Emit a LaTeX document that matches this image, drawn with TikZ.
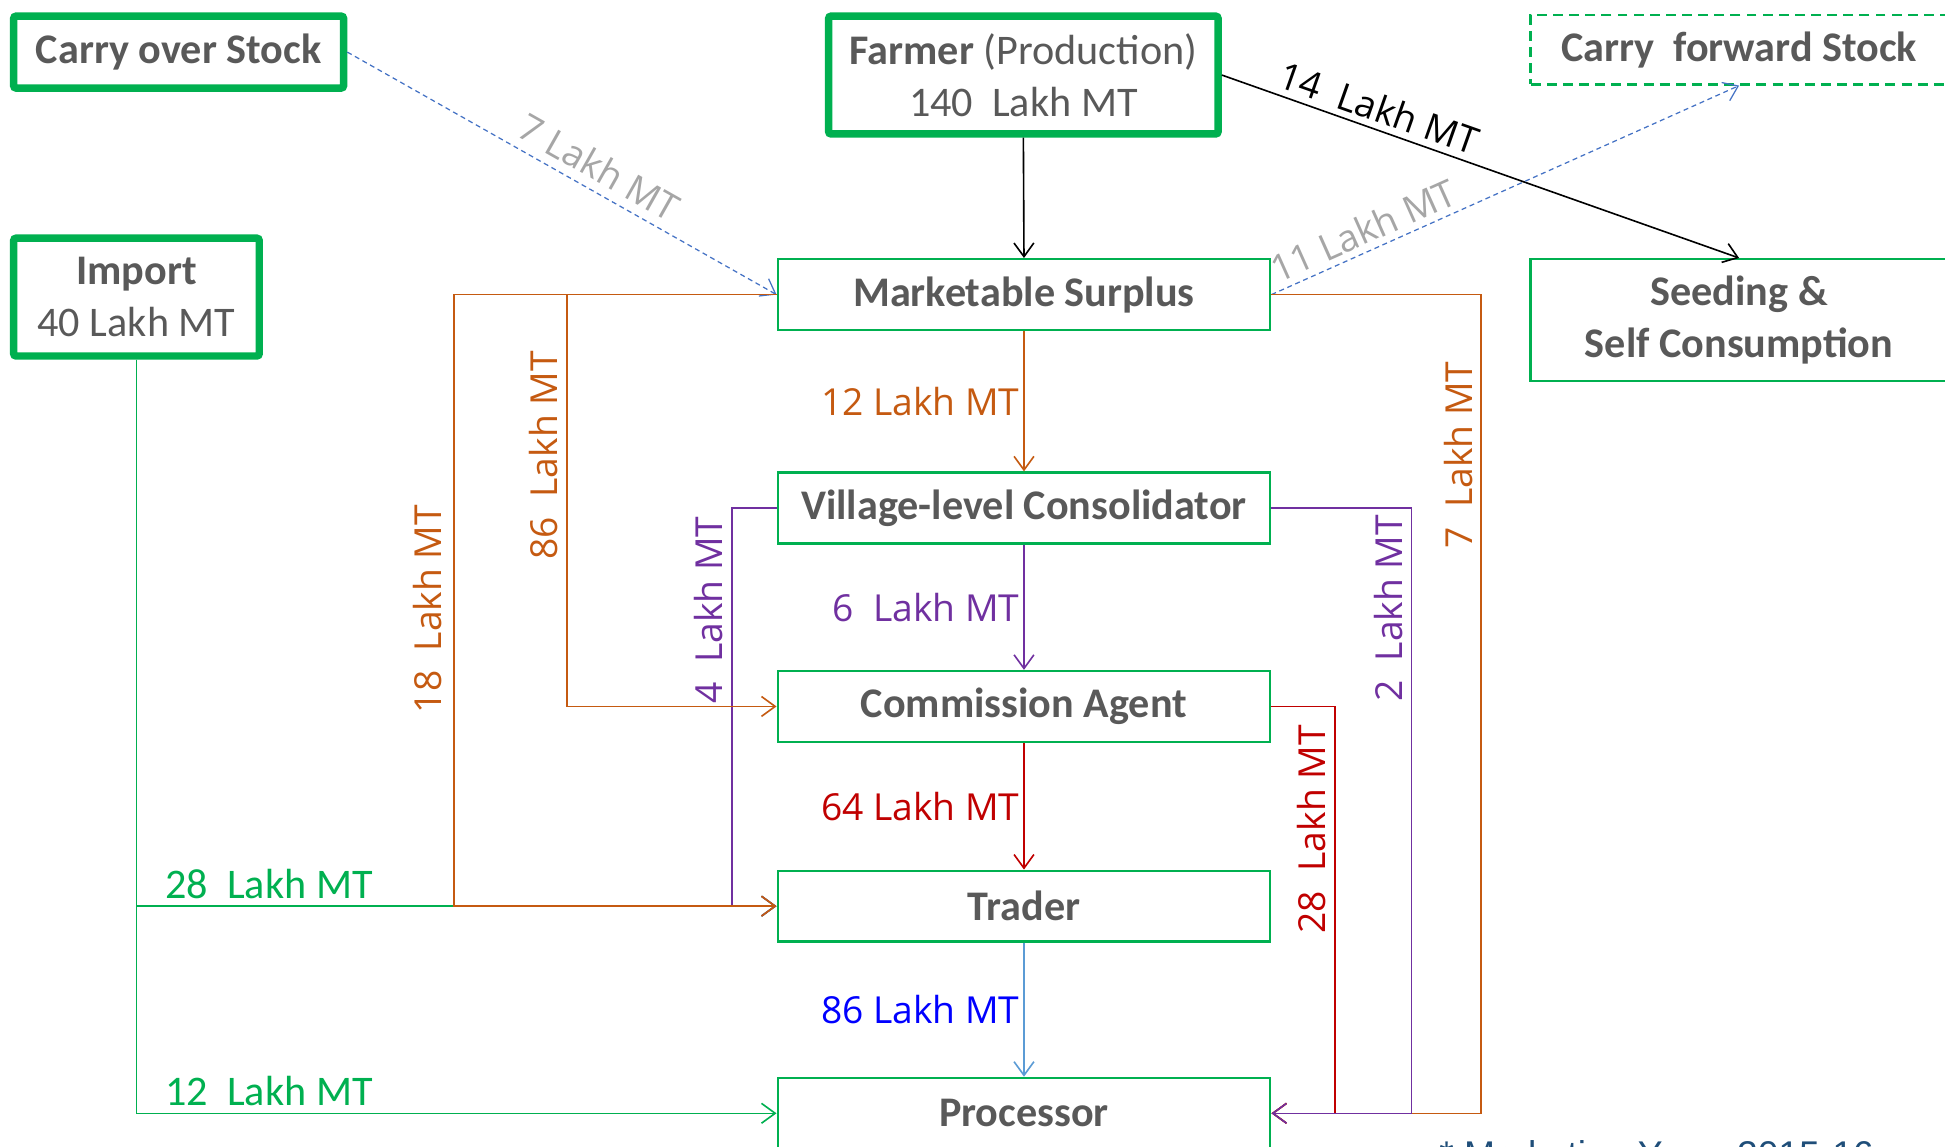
\documentclass[tikz,border=0pt]{standalone}
\usepackage{fontspec}
\setmainfont{Carlito}
\newfontfamily\lblfont{Open Sans}
\newfontfamily\notefont{Liberation Sans}
\usepackage{xcolor}
\usetikzlibrary{arrows.meta}
\usetikzlibrary{positioning}
\definecolor{boxgreen}{HTML}{00B050}
\definecolor{boxgray}{HTML}{595959}
\definecolor{orng}{HTML}{C55A11}
\definecolor{purp}{HTML}{7030A0}
\definecolor{redc}{HTML}{C00000}
\definecolor{blueline}{HTML}{5B9BD5}
\definecolor{bluetext}{HTML}{0000FF}
\definecolor{dashblue}{HTML}{4472C4}
\definecolor{lightgray}{HTML}{A6A6A6}
\definecolor{notecol}{HTML}{1F4E79}

\begin{document}
\begin{tikzpicture}[x=1pt, y=-1pt, semithick]
  \tikzstyle{bigbox}=[draw=boxgreen, line width=6pt, rounded corners=2pt, inner sep=0pt, align=center, text=boxgray, font=\fontsize{34}{42}\selectfont]
  \tikzstyle{flowbox}=[draw=boxgreen, line width=2pt, minimum width=397pt, minimum height=57pt, inner sep=0pt, align=center, text=boxgray, font=\fontsize{34}{42}\selectfont\bfseries]
  \tikzstyle{flow}=[line width=1.3pt, -{Straight Barb[length=11pt,width=16pt]}]
  \tikzstyle{lbl}=[font=\lblfont\fontsize{30}{36}\selectfont, inner sep=3pt]
  \tikzstyle{vlbl}=[lbl, rotate=90, anchor=south, outer sep=4pt]
  \tikzstyle{glbl}=[font=\fontsize{34}{40}\selectfont, text=boxgreen, anchor=base west, inner sep=0pt, yshift=6pt]
\useasboundingbox (0,0) rectangle (1568,924);
\clip (0,0) rectangle (1568,924);

% sources
\node[bigbox, minimum width=266pt, minimum height=58pt] (cos) at (144,42) {\bfseries Carry over Stock};
\node[bigbox, minimum width=314pt, minimum height=95pt] (farmer) at (825,60.5) {\textbf{Farmer} (Production)\\140~ Lakh MT};
\node[bigbox, minimum width=198pt, minimum height=95pt] (imp) at (110,239.5) {\textbf{Import}\\40 Lakh MT};

% chain
\foreach \n/\y/\t in {ms/237.5/Marketable Surplus, vc/409.5/Village-level Consolidator, ca/569.5/Commission Agent, tr/730.5/Trader, pr/897.5/Processor}
  \node[flowbox] (\n) at (825.5,\y) {\t};

\node[flowbox, minimum width=336pt, minimum height=56pt, dash pattern=on 8pt off 5pt] (cfs) at (1402,40) {Carry~ forward Stock};
\node[flowbox, minimum width=336pt, minimum height=98pt] (seed) at (1402,258) {Seeding \&\\Self Consumption};

% top flows
\draw[flow] (farmer.south) -- (ms.north);
\draw[flow] (farmer.east) -- node[lbl, sloped, above=2pt, pos=0.29] {14~ Lakh MT} (seed.north);
\draw[flow, dashblue, line width=1pt, dash pattern=on 4pt off 3pt] (cos.east) -- node[lbl, sloped, above=4pt, pos=0.56, text=lightgray] {7 Lakh MT} (ms.west);
\draw[flow, dashblue, line width=1pt, dash pattern=on 4pt off 3pt] (ms.east) -- node[lbl, sloped, above=2pt, pos=0.215, text=lightgray] {11 Lakh MT} (cfs.south);

\foreach \a/\b/\c/\d/\t in {ms/vc/orng/orng/12 Lakh MT, vc/ca/purp/purp/6~ Lakh MT, ca/tr/redc/redc/64 Lakh MT, tr/pr/blueline/bluetext/86 Lakh MT}
  \draw[flow, \c] (\a.south) -- node[lbl, left, text=\d] {\t} (\b.north);

% left side
\draw[flow, boxgreen] (imp.south) |- node[glbl, pos=0.522] {12~ Lakh MT} (pr.west);
\draw[flow, boxgreen] (imp.south) |- node[glbl, pos=0.522] {28~ Lakh MT} (tr.west);
\draw[flow, purp] (vc.west) -- ++(-36,0) |- node[vlbl, pos=0.128] {4~ Lakh MT} (tr.west);
\draw[flow, orng] (ms.west) -- ++(-169,0) |- node[vlbl, pos=0.195] {86~ Lakh MT} (ca.west);
\draw[flow, orng] (ms.west) -- ++(-260,0) |- node[vlbl, pos=0.257, outer sep=7pt] {18~ Lakh MT} (tr.west);

% right side
\draw[flow, orng] (ms.east) -- ++(169,0) |- node[vlbl, pos=0.098] {7~ Lakh MT} (pr.east);
\draw[flow, redc] (ca.east) -- ++(51,0) |- node[vlbl, pos=0.151] {28~ Lakh MT} (pr.east);
\draw[flow, purp] (vc.east) -- ++(113,0) |- node[vlbl, pos=0.083] {2~ Lakh MT} (pr.east);

\node[anchor=base west, inner sep=0pt, text=notecol, font=\notefont\fontsize{30}{36}\selectfont] (note) at (1160,941) {* Marketing Year: 2015-16};
\end{tikzpicture}
\end{document}
